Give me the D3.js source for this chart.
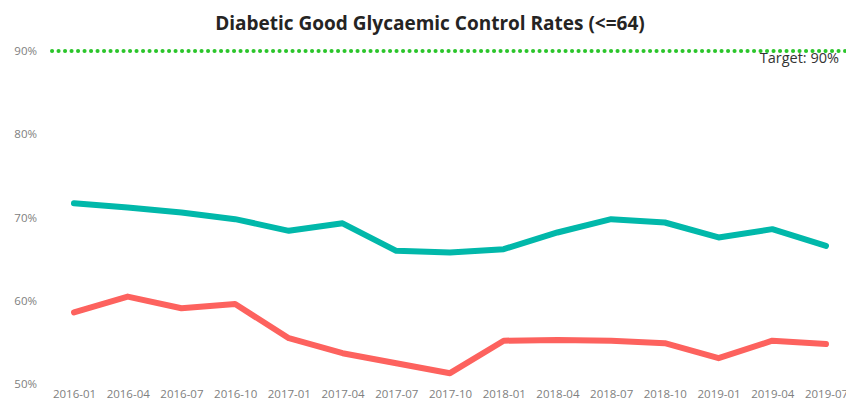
<!DOCTYPE html>
<html>
<head>
<meta charset="utf-8">
<script src="https://cdn.jsdelivr.net/npm/d3@7"></script>
<style>
  body { margin: 0; background: #fff; }
  svg { display: block; font-family: "Open Sans", "Noto Sans", sans-serif; }
</style>
</head>
<body>
<div class="chart"></div>
<script>
const months = ["2016-01","2016-04","2016-07","2016-10","2017-01","2017-04","2017-07","2017-10",
  "2018-01","2018-04","2018-07","2018-10","2019-01","2019-04","2019-07"];
const tealValues = [71.7, 71.2, 70.6, 69.8, 68.4, 69.3, 66.0, 65.8, 66.2, 68.2, 69.8, 69.4, 67.6, 68.6, 66.6];
const redValues = [58.6, 60.5, 59.1, 59.6, 55.5, 53.7, 52.5, 51.3, 55.2, 55.3, 55.2, 54.9, 53.1, 55.2, 54.8];
const yTicks = [50, 60, 70, 80, 90];
const target = 90;

const width = 846, height = 405;
const margin = {top: 51, right: 20, bottom: 21, left: 74};

const svg = d3.select("div.chart").append("svg")
  .attr("width", width)
  .attr("height", height);

const x = d3.scalePoint()
  .domain(months)
  .range([margin.left, width - margin.right]);

const y = d3.scaleLinear()
  .domain([50, 90])
  .range([height - margin.bottom, margin.top]);

// title
svg.append("text")
  .attr("x", 430)
  .attr("y", 30)
  .attr("text-anchor", "middle")
  .attr("font-size", 19)
  .attr("font-weight", "bold")
  .attr("fill", "#252423")
  .text("Diabetic Good Glycaemic Control Rates (<=64)");

// y axis labels
const yAxis = svg.append("g")
  .attr("transform", "translate(37,0)")
  .call(d3.axisLeft(y).tickValues(yTicks).tickFormat(d => d + "%").tickSize(0).tickPadding(0));
yAxis.select(".domain").remove();
yAxis.selectAll("text").attr("font-size", 11.5).attr("fill", "#808080").attr("font-family", "Open Sans, sans-serif");

// x axis labels
const xAxis = svg.append("g")
  .attr("transform", "translate(0," + (height - 18) + ")")
  .call(d3.axisBottom(x).tickSize(0).tickPadding(3));
xAxis.select(".domain").remove();
xAxis.selectAll("text").attr("font-size", 11.5).attr("fill", "#808080").attr("font-family", "Open Sans, sans-serif");

// target line
svg.append("line")
  .attr("x1", 52)
  .attr("x2", width)
  .attr("y1", y(target))
  .attr("y2", y(target))
  .attr("stroke", "#2BC52B")
  .attr("stroke-width", 4)
  .attr("stroke-linecap", "round")
  .attr("stroke-dasharray", "0.1 6.4");

svg.append("text")
  .attr("x", 839)
  .attr("y", 63)
  .attr("text-anchor", "end")
  .attr("font-size", 14.5)
  .attr("fill", "#333")
  .text("Target: " + target + "%");

const line = d3.line()
  .x((d, i) => x(months[i]))
  .y(d => y(d));

svg.append("path")
  .datum(tealValues)
  .attr("fill", "none")
  .attr("stroke", "#01B8AA")
  .attr("stroke-width", 6)
  .attr("stroke-linejoin", "round")
  .attr("stroke-linecap", "round")
  .attr("d", line);

svg.append("path")
  .datum(redValues)
  .attr("fill", "none")
  .attr("stroke", "#FD625E")
  .attr("stroke-width", 6)
  .attr("stroke-linejoin", "round")
  .attr("stroke-linecap", "round")
  .attr("d", line);
</script>
</body>
</html>
